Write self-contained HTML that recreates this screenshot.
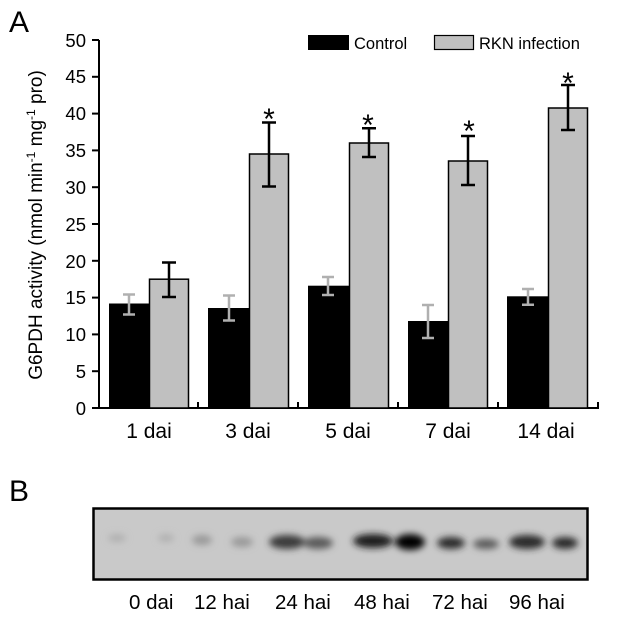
<!DOCTYPE html>
<html><head><style>body{margin:0;background:#fff}svg{display:block}</style></head><body>
<svg width="620" height="620" viewBox="0 0 620 620" font-family="Liberation Sans, sans-serif">
<defs><filter id="b" x="-50%" y="-100%" width="200%" height="300%"><feGaussianBlur stdDeviation="3.5"/></filter></defs>
<text x="9" y="32" font-size="30">A</text>
<text x="9" y="501" font-size="30">B</text>
<text transform="translate(42,225) rotate(-90)" font-size="19" text-anchor="middle">G6PDH activity (nmol min<tspan dy="-7" font-size="12">-1</tspan><tspan dy="7"> mg</tspan><tspan dy="-7" font-size="12">-1</tspan><tspan dy="7"> pro)</tspan></text>
<g font-size="18.5" text-anchor="end">
<text x="86" y="415">0</text><text x="86" y="378">5</text><text x="86" y="341">10</text><text x="86" y="304">15</text><text x="86" y="268">20</text><text x="86" y="231">25</text><text x="86" y="194">30</text><text x="86" y="157">35</text><text x="86" y="120">40</text><text x="86" y="83">45</text><text x="86" y="47">50</text>
</g>
<g stroke="#000" stroke-width="2">
<line x1="99" y1="40" x2="99" y2="409"/><line x1="98" y1="408" x2="599" y2="408"/>
<line x1="92" y1="408" x2="99" y2="408"/><line x1="92" y1="371.2" x2="99" y2="371.2"/><line x1="92" y1="334.4" x2="99" y2="334.4"/><line x1="92" y1="297.6" x2="99" y2="297.6"/><line x1="92" y1="260.8" x2="99" y2="260.8"/><line x1="92" y1="224" x2="99" y2="224"/><line x1="92" y1="187.2" x2="99" y2="187.2"/><line x1="92" y1="150.4" x2="99" y2="150.4"/><line x1="92" y1="113.6" x2="99" y2="113.6"/><line x1="92" y1="76.8" x2="99" y2="76.8"/><line x1="92" y1="40" x2="99" y2="40"/>
<line x1="198" y1="402" x2="198" y2="408"/><line x1="298" y1="402" x2="298" y2="408"/><line x1="398" y1="402" x2="398" y2="408"/><line x1="498" y1="402" x2="498" y2="408"/><line x1="598" y1="402" x2="598" y2="408"/>
</g>
<g fill="#000">
<rect x="109" y="303.5" width="40" height="104.5"/>
<rect x="208" y="308" width="41" height="100"/>
<rect x="308" y="285.7" width="41" height="122.3"/>
<rect x="408" y="321" width="40" height="87"/>
<rect x="507" y="296.3" width="41" height="111.7"/>
</g>
<g fill="#c0c0c0" stroke="#000" stroke-width="1.5">
<rect x="149.5" y="279.2" width="39" height="128.8"/>
<rect x="249.5" y="154" width="39" height="254"/>
<rect x="349.5" y="143" width="39" height="265"/>
<rect x="448.5" y="161" width="39" height="247"/>
<rect x="548.5" y="108" width="39" height="300"/>
</g>
<g stroke="#b0b0b0" stroke-width="2.5" fill="none">
<path d="M129 294.5V314.5M123 294.5H135M123 314.5H135"/>
<path d="M229 295.5V320.5M223 295.5H235M223 320.5H235"/>
<path d="M328 277V295M322 277H334M322 295H334"/>
<path d="M428 305V338M422 305H434M422 338H434"/>
<path d="M528 289V304.7M522 289H534M522 304.7H534"/>
</g>
<g stroke="#000" stroke-width="2.5" fill="none">
<path d="M169 262.5V297M162 262.5H176M162 297H176"/>
<path d="M269 122.5V186.5M262 122.5H276M262 186.5H276"/>
<path d="M369 128.3V157M362 128.3H376M362 157H376"/>
<path d="M468 136V185M461 136H475M461 185H475"/>
<path d="M568 85V130M561 85H575M561 130H575"/>
</g>
<g font-size="30" text-anchor="middle">
<text x="269" y="129">*</text><text x="368" y="135">*</text><text x="469" y="141">*</text><text x="568" y="93">*</text>
</g>
<g font-size="21" text-anchor="middle">
<text x="149" y="438">1 dai</text><text x="248" y="438">3 dai</text><text x="348" y="438">5 dai</text><text x="448" y="438">7 dai</text><text x="546" y="438">14 dai</text>
</g>
<rect x="308" y="35" width="41" height="15" fill="#000"/>
<text x="354" y="49" font-size="16.5">Control</text>
<rect x="434.5" y="35.5" width="39" height="14" fill="#c0c0c0" stroke="#000" stroke-width="1.2"/>
<text x="479" y="49" font-size="16.5">RKN infection</text>
<rect x="93.5" y="508.5" width="494" height="71" fill="#c9c9c9" stroke="#000" stroke-width="2.5"/>
<g filter="url(#b)">
<ellipse cx="117" cy="538" rx="9" ry="4" fill="#b0b0b0"/>
<ellipse cx="166" cy="538" rx="8" ry="4" fill="#b0b0b0"/>
<ellipse cx="202" cy="540" rx="10" ry="5" fill="#999"/>
<ellipse cx="242" cy="542" rx="11" ry="5" fill="#999"/>
<ellipse cx="287" cy="542" rx="18" ry="7" fill="#3a3a3a"/>
<ellipse cx="318" cy="543" rx="15" ry="6" fill="#5a5a5a"/>
<ellipse cx="373" cy="541" rx="20" ry="7" fill="#1a1a1a"/>
<ellipse cx="410" cy="542" rx="15" ry="8" fill="#000"/>
<ellipse cx="451" cy="543" rx="14" ry="6" fill="#2a2a2a"/>
<ellipse cx="486" cy="544" rx="13" ry="5" fill="#5a5a5a"/>
<ellipse cx="527" cy="542" rx="18" ry="7" fill="#2a2a2a"/>
<ellipse cx="565" cy="543" rx="13" ry="6" fill="#2a2a2a"/>
</g>
<g font-size="20.5">
<text x="129" y="609">0 dai</text><text x="194" y="609">12 hai</text><text x="275" y="609">24 hai</text><text x="354" y="609">48 hai</text><text x="432" y="609">72 hai</text><text x="509" y="609">96 hai</text>
</g>
</svg>
</body></html>
